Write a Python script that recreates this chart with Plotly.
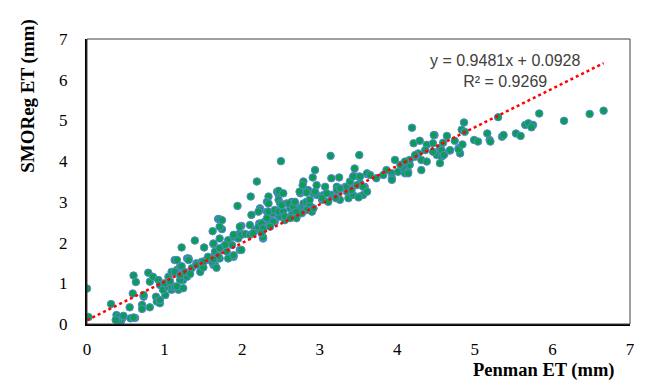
import plotly.graph_objects as go

# Penman ET (x) vs SMOReg ET (y)
penman_et = [
    0.00, 0.02, 0.31, 0.38, 0.41, 0.44, 0.46, 0.40, 0.37, 0.47, 0.56, 0.62, 0.60, 0.55, 0.59, 0.60,
    0.63, 0.71, 0.71, 0.73, 0.73, 0.79, 0.81, 0.81, 0.85, 0.92, 0.94, 0.89, 0.90, 0.94, 0.94, 1.01,
    0.98, 1.04, 1.09, 1.09, 1.13, 1.18, 1.05, 1.09, 1.16, 1.20, 1.13, 1.16, 1.22, 1.29, 1.26, 1.24,
    1.29, 1.20, 1.13, 1.00, 1.07, 1.16, 1.24, 1.20,
    1.31, 1.39, 1.51, 1.62, 1.69, 1.41, 1.54, 1.63, 1.46, 1.63, 1.67, 1.76, 1.82, 1.89, 1.95, 1.97,
    1.87, 1.80, 1.89, 1.97, 1.31, 1.22, 1.35, 1.41, 1.48, 1.50, 1.26, 1.33, 1.65, 1.67, 1.61, 1.56,
    1.65, 1.71, 1.82, 1.71, 1.74, 1.99, 1.94, 1.99, 1.89, 1.71, 1.78, 1.65, 1.69, 1.63, 1.71, 1.50,
    1.63, 1.89, 1.99, 1.71, 1.74, 1.97,
    2.19, 2.11, 2.34, 2.32, 2.45, 2.23, 2.32, 2.40, 2.38, 2.47, 2.12, 2.10, 2.22, 2.29, 2.04, 2.10,
    2.17, 2.21, 2.27, 2.36, 2.42, 2.32, 2.40, 2.49, 2.25, 2.27, 2.36, 2.27, 2.47, 2.23, 2.34, 2.42,
    2.27, 2.25, 2.14, 2.47, 2.21, 2.34, 2.47, 2.47,
    2.50, 2.53, 2.49, 2.57, 2.64, 2.68, 2.79, 2.83, 2.87, 2.75, 2.53, 2.62, 2.66, 2.72, 2.83, 2.90,
    2.55, 2.64, 2.70, 2.51, 2.60, 2.66, 2.68, 2.75, 2.79, 2.85, 2.87, 2.77, 2.70, 2.70, 2.92, 2.96,
    2.79, 2.78, 2.91, 2.94, 2.74, 2.83, 2.92, 2.94, 2.96, 2.55, 2.62,
    3.14, 3.51, 3.15, 3.25, 3.45, 3.44, 3.50, 3.07, 3.22, 3.33, 3.41, 3.52, 3.58, 3.05, 3.15, 3.24,
    3.35, 3.51, 3.03, 3.11, 3.20, 3.26, 3.37, 3.43, 3.56, 3.03, 3.09, 3.22, 3.26, 3.35, 3.41, 3.48,
    3.56, 3.21, 3.39, 3.50, 3.43, 3.52,
    3.61, 3.61, 3.61, 3.65, 3.73, 3.82, 3.86, 3.93, 3.93, 3.93, 4.01, 4.08, 4.14, 4.16, 4.04, 4.10,
    3.97, 4.16, 4.19, 4.21, 4.29, 4.38, 4.27, 4.31, 4.38, 4.23, 4.31, 4.14, 4.10, 4.23, 4.36,
    4.48, 4.46, 4.64, 4.74, 4.79, 4.81, 4.68, 4.55, 4.51, 4.57, 4.61, 4.55, 4.46, 4.68, 4.79, 4.57,
    4.60, 4.86, 4.83, 4.87, 4.59, 4.84, 4.99, 5.04, 5.16, 5.19, 5.20, 5.35, 5.37, 5.53, 5.59, 5.65,
    5.69, 5.75, 5.73, 5.30, 5.83, 6.15, 6.48, 6.66, 4.47,
]
smoreg_et = [
    0.87, 0.17, 0.49, 0.22, 0.18, 0.08, 0.15, 0.05, 0.10, 0.20, 0.14, 0.15, 0.16, 0.41, 0.75, 1.19,
    1.03, 0.47, 0.37, 0.67, 0.71, 1.26, 1.04, 0.41, 1.16, 1.08, 0.96, 0.67, 0.55, 0.51, 0.59, 0.71,
    0.84, 0.92, 0.84, 0.92, 0.92, 0.84, 1.16, 1.28, 1.33, 1.41, 1.57, 1.57, 1.88, 1.61, 1.25, 1.08,
    1.16, 1.08, 1.28, 1.00, 1.05, 0.92, 0.88, 1.20,
    1.61, 2.05, 1.88, 2.28, 2.58, 1.49, 1.57, 1.45, 1.28, 1.96, 1.78, 1.90, 2.06, 2.14, 2.10, 2.23,
    1.94, 1.78, 1.65, 1.82, 1.57, 1.42, 1.37, 1.45, 1.53, 1.39, 1.28, 1.23, 1.45, 1.38, 1.53, 1.65,
    1.69, 1.61, 1.61, 2.57, 2.33, 2.41, 2.90, 2.19, 2.19, 2.10, 1.94, 1.78, 1.67, 1.59, 1.86, 1.53,
    1.98, 1.69, 1.82, 2.39, 2.55, 2.39,
    3.50, 3.13, 3.13, 3.00, 3.25, 2.84, 2.76, 2.72, 2.54, 2.64, 2.68, 2.43, 2.47, 2.51, 2.21, 2.19,
    2.31, 2.39, 2.39, 2.47, 2.51, 2.60, 2.51, 2.64, 2.47, 2.35, 2.39, 2.10, 3.17, 2.80, 2.76, 2.80,
    2.13, 2.23, 2.23, 3.27, 2.76, 2.96, 3.05, 2.76,
    4.00, 3.21, 2.96, 2.96, 3.00, 2.92, 2.96, 3.00, 2.92, 2.84, 2.76, 2.84, 2.76, 2.80, 2.80, 2.76,
    2.55, 2.68, 2.64, 2.92, 2.96, 2.88, 3.00, 3.21, 3.25, 3.29, 3.05, 2.72, 2.76, 2.60, 2.84, 3.17,
    3.50, 3.41, 3.60, 3.78, 3.25, 3.23, 3.21, 3.25, 3.41, 2.64, 2.60,
    4.13, 4.15, 3.58, 3.60, 3.82, 3.64, 3.62, 3.37, 3.37, 3.37, 3.41, 3.46, 3.37, 3.17, 3.17, 3.21,
    3.25, 3.13, 3.05, 3.00, 3.13, 3.05, 3.09, 3.17, 3.17, 3.09, 3.21, 3.29, 3.33, 3.37, 3.29, 3.41,
    3.37, 3.09, 3.50, 3.11, 3.62, 3.62,
    3.68, 3.25, 3.70, 3.66, 3.58, 3.66, 3.78, 3.70, 3.58, 3.54, 3.74, 3.82, 3.74, 3.91, 3.91, 3.70,
    4.03, 4.03, 4.82, 4.44, 4.50, 4.40, 4.19, 4.03, 3.99, 4.11, 3.78, 3.70, 3.99, 4.15, 4.27,
    4.64, 4.44, 4.62, 4.50, 4.32, 4.19, 4.26, 4.32, 4.15, 4.11, 4.19, 3.95, 4.23, 4.27, 4.29, 4.27,
    4.15, 4.95, 4.77, 4.72, 4.45, 4.41, 4.52, 4.48, 4.68, 4.52, 4.48, 4.60, 4.64, 4.68, 4.62, 4.89,
    4.93, 4.89, 4.83, 5.08, 5.17, 4.99, 5.16, 5.24, 4.64,
]

# linear trendline as printed on the chart
slope = 0.9481
intercept = 0.0928
r_squared = 0.9269

axis_ticks = [0, 1, 2, 3, 4, 5, 6, 7]

trend_x = [0, max(penman_et)]
trend_y = [slope * v + intercept for v in trend_x]

serif = 'Liberation Serif, Times New Roman, serif'

fig = go.Figure()

fig.add_trace(go.Scatter(
    x=penman_et,
    y=smoreg_et,
    mode='markers',
    marker=dict(size=7.5, color='#0A9E55', line=dict(width=1, color='#5B86D6')),
    showlegend=False,
))

fig.add_trace(go.Scatter(
    x=trend_x,
    y=trend_y,
    mode='lines',
    line=dict(color='#FF0000', width=2.5, dash='dot'),
    showlegend=False,
))

# page body has an 8px margin, so the figure is sized to fit the window
fig.update_layout(
    width=645,
    height=372,
    plot_bgcolor='white',
    paper_bgcolor='white',
    margin=dict(l=79, r=23, t=31, b=56),
    font=dict(family=serif, size=17, color='black'),
)

fig.update_xaxes(
    range=[0, 7],
    tickvals=axis_ticks,
    showgrid=False,
    zeroline=False,
    showline=True,
    linecolor='black',
    linewidth=2,
    ticks='',
    ticklabelstandoff=9,
)
fig.update_yaxes(
    range=[0, 7],
    tickvals=axis_ticks,
    showgrid=False,
    zeroline=False,
    showline=True,
    linecolor='black',
    linewidth=2,
    ticks='',
    ticklabelstandoff=14,
)

# thin frame around the plot area
fig.add_shape(type='rect', xref='x domain', yref='y domain', x0=0, y0=0, x1=1, y1=1,
              line=dict(color='#404040', width=1))

fig.add_annotation(
    text='<b>SMOReg ET (mm)</b>', textangle=-90,
    xref='paper', yref='paper', x=-0.109, y=0.80,
    xanchor='center', yanchor='middle',
    showarrow=False, font=dict(family=serif, size=19),
)
fig.add_annotation(
    text='<b>Penman ET (mm)</b>',
    xref='paper', yref='paper', x=0.842, y=-0.162,
    xanchor='center', yanchor='middle',
    showarrow=False, font=dict(family=serif, size=18.5),
)
fig.add_annotation(
    text=f'y = {slope}x + {intercept}<br>R² = {r_squared}',
    xref='paper', yref='paper', x=0.77, y=0.886,
    xanchor='center', yanchor='middle',
    showarrow=False, align='center',
    font=dict(family='Liberation Sans, Arial, sans-serif', size=16, color='#404040'),
)

fig.write_html("out.html")
